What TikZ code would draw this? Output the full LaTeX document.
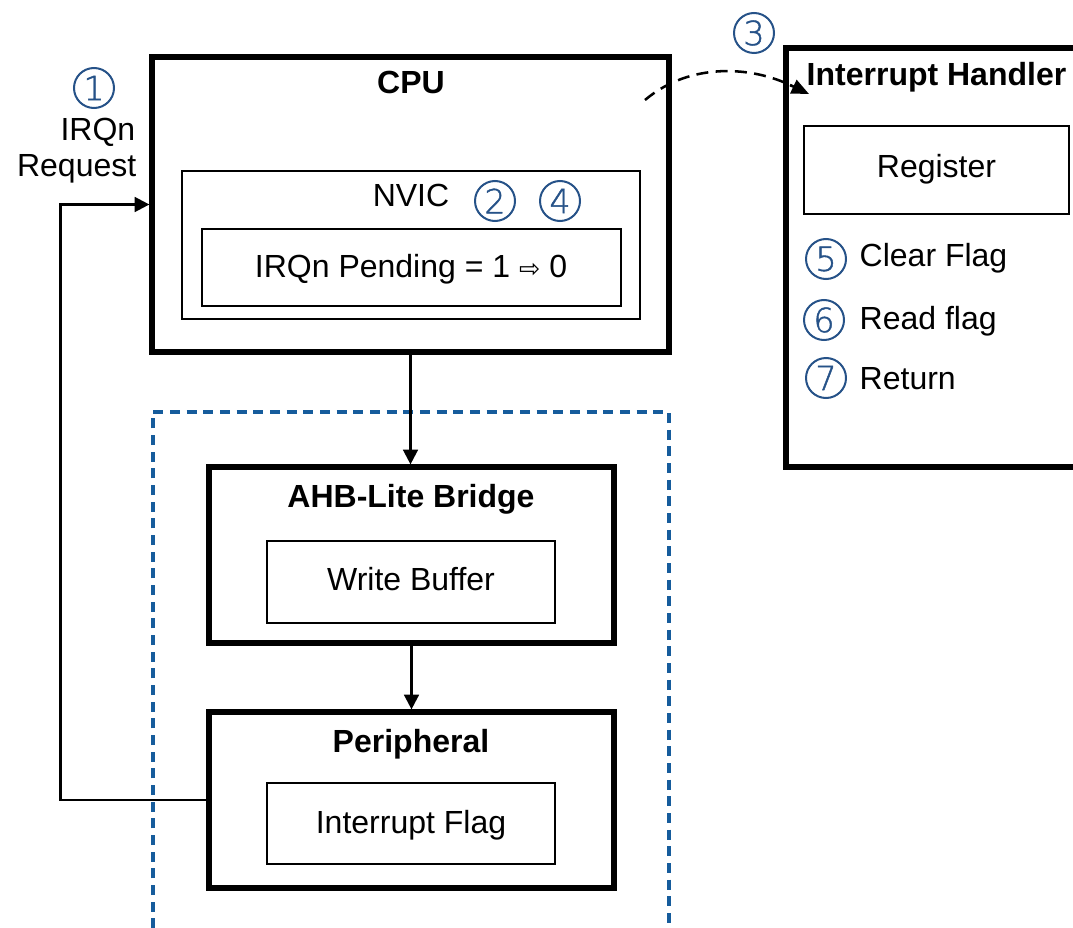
\documentclass[tikz,border=0pt]{standalone}
\usepackage{fontspec}
\setmainfont{Liberation Sans}
\newfontfamily\symfont{DejaVu Sans}
\newfontfamily\digitfont[FakeBold=1.3]{DejaVu Sans ExtraLight}
\usetikzlibrary{arrows.meta,fit}
\definecolor{numblue}{RGB}{38,82,136}
\definecolor{zoneblue}{RGB}{22,92,156}
\begin{document}
\begin{tikzpicture}[x=0.75pt,y=-0.75pt,
  font=\fontsize{24}{28}\selectfont,
  thickbox/.style={draw, line width=3.9pt, inner sep=0pt},
  thinbox/.style={draw, line width=1.4pt, inner sep=0pt},
  title/.style={font=\fontsize{24}{28}\selectfont\bfseries},
  lbl/.style={anchor=base},
  num/.style={circle, draw=numblue, line width=1.5pt, text=numblue,
    minimum size=30pt, inner sep=0pt, font=\digitfont\fontsize{25}{28}\selectfont},
  conn/.style={line width=1.8pt, -{Triangle[length=11pt,width=11pt]}},
]
\useasboundingbox (0,0) rectangle (1073,927);

% bus domain (open at the bottom)
\draw[zoneblue, line width=2.4pt, dash pattern=on 7.5pt off 5pt]
  (153,945) -- (153,412) -- (669,412) -- (669,945);

% CPU with NVIC
\node[thickbox, fit={(152,57)(669,352)}] (cpu) {};
\node[title, lbl] (cputitle) at (411,94) {CPU};
\node[thinbox, line width=1.6pt, fit={(182,171)(640,319)}] (nvic) {};
\node[lbl] (nvictext) at (411,207) {NVIC};
\node[thinbox, fit={(202,229)(621,306)}] (pend) {};
\node[lbl] (pendtext) at (411,277) {IRQn Pending = 1 {\symfont\fontsize{19}{20}\selectfont ⇨} 0};
\node[num] (n2) at (495,201) {2};
\node[num] (n4) at (560,201) {4};

% request label
\node[num] (n1) at (94,88) {1};
\node[anchor=base east] (irq) at (140,141) {IRQn};
\node[anchor=base east] (req) at (141,177) {Request};

% AHB-Lite bridge
\node[thickbox, fit={(209,467)(614,643)}] (ahb) {};
\node[title, lbl] (ahbtitle) at (411,507) {AHB-Lite Bridge};
\node[thinbox, fit={(267,541)(555,623)}] (wbuf) {};
\node[lbl] (wbuftext) at (411,590) {Write Buffer};

% peripheral
\node[thickbox, fit={(209,712)(614,888)}] (periph) {};
\node[title, lbl] (pertitle) at (411,752) {Peripheral};
\node[thinbox, fit={(267,783)(555,864)}] (iflag) {};
\node[lbl] (iflagtext) at (411,833) {Interrupt Flag};

% interrupt handler (runs past the right edge)
\node[thickbox, fit={(786,48)(1110,467)}] (handler) {};
\node[title, anchor=base west] (htitle) at (802,86) {Interrupt Handler};
\node[thinbox, fit={(804,126)(1069,214)}] (reg) {};
\node[lbl] (regtext) at (936.5,178) {Register};
\node[num] (n3) at (754,33) {3};
\node[num] (n5) at (826,259) {5};
\node[anchor=base west] (s5) at (855,267) {Clear Flag};
\node[num] (n6) at (824,320) {6};
\node[anchor=base west] (s6) at (855,329) {Read flag};
\node[num] (n7) at (826,378) {7};
\node[anchor=base west] (s7) at (855,389) {Return};

% connectors
\draw[conn] (cpu.south) -- (cpu.south |- ahb.north);
\draw[conn] (ahb.south) -- (ahb.south |- periph.north);
\draw[conn] (periph.west) -- ++(-146,0) |- (cpu.west);

\coordinate (jumpfrom) at (645,100);
\coordinate (jumpto) at (809,94);
\draw[line width=1.9pt, dash pattern=on 9pt off 5.5pt]
  (jumpfrom) .. controls (690,62) and (752,66) .. (792,86);
\draw[line width=1.9pt, -{Triangle[length=13pt,width=11pt]}]
  (790,85) -- (jumpto);
\end{tikzpicture}
\end{document}
